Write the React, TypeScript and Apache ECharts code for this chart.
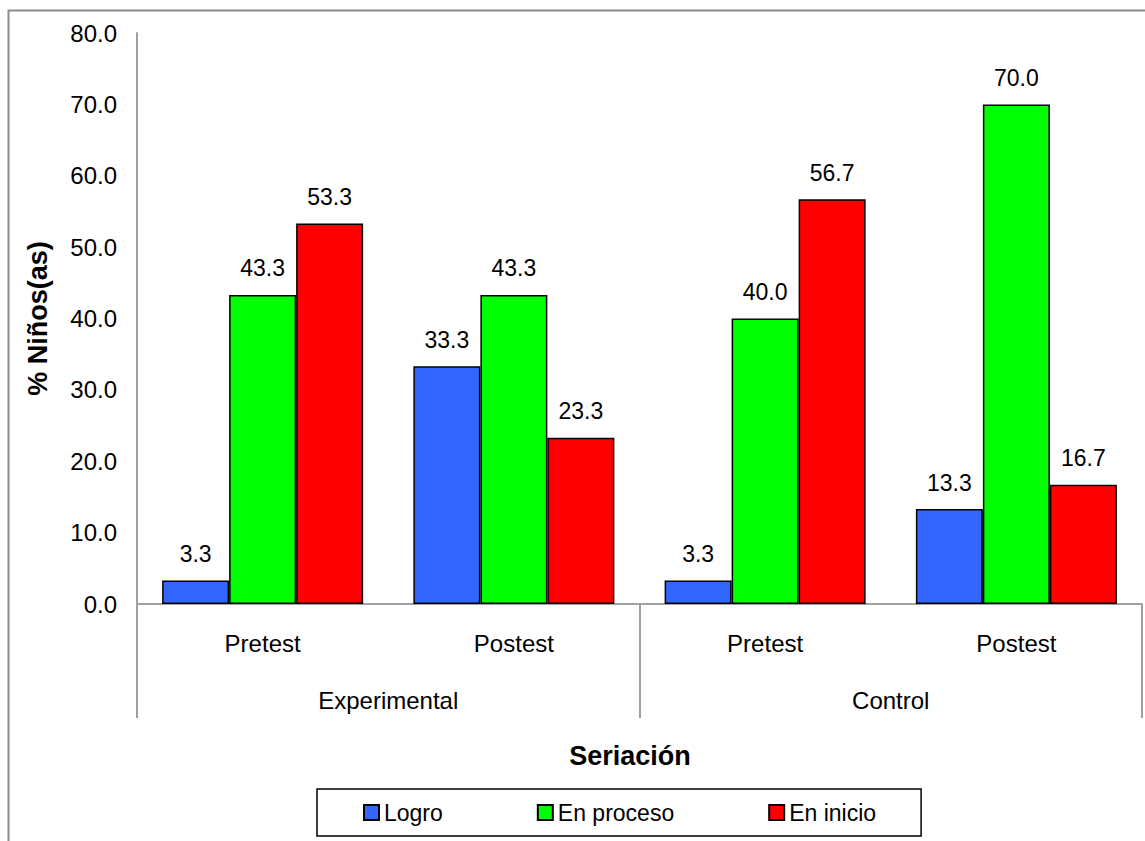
import React, { useEffect, useRef } from "react";
import * as echarts from "echarts";

const stages = ["Pretest", "Postest", "Pretest", "Postest"];
const groups = ["Experimental", "Control"];
const logro = [3.3, 33.3, 3.3, 13.3];
const enProceso = [43.3, 43.3, 40.0, 70.0];
const enInicio = [53.3, 23.3, 56.7, 16.7];
const yTicks = { min: 0, max: 80, interval: 10 };

const FONT = "'Liberation Sans', Arial, sans-serif";
const AXIS_GRAY = "#a0a0a0";

export default function App() {
  const ref = useRef<HTMLDivElement>(null);

  useEffect(() => {
    if (!ref.current) return;
    const chart = echarts.init(ref.current, null, { renderer: "svg" });

    const barSeries = (name: string, data: number[], color: string) => ({
      name,
      type: "bar",
      data,
      xAxisIndex: 0,
      barGap: "0%",
      barCategoryGap: "20%",
      itemStyle: { color, borderColor: "#000", borderWidth: 1.5 },
      label: {
        show: true,
        position: "top",
        distance: 15,
        formatter: (p: any) => Number(p.value).toFixed(1),
        fontFamily: FONT,
        fontSize: 23,
        color: "#000",
      },
    });

    chart.setOption({
      animation: false,
      textStyle: { fontFamily: FONT },
      grid: { left: 137, right: 3, top: 33, bottom: 237 },
      xAxis: [
        {
          type: "category",
          data: stages,
          position: "bottom",
          axisLine: { show: true, lineStyle: { color: AXIS_GRAY, width: 2 } },
          axisTick: { show: false },
          axisLabel: { margin: 27, fontSize: 24, color: "#000", fontFamily: FONT },
        },
        {
          type: "category",
          data: groups,
          position: "bottom",
          axisLine: { show: false },
          axisTick: { show: true, length: 114, lineStyle: { color: AXIS_GRAY, width: 2 } },
          axisLabel: { margin: 84, fontSize: 24, color: "#000", fontFamily: FONT },
        },
      ],
      yAxis: {
        type: "value",
        min: yTicks.min,
        max: yTicks.max,
        interval: yTicks.interval,
        name: "% Niños(as)",
        nameLocation: "middle",
        nameGap: 86,
        nameTextStyle: { fontSize: 27, fontWeight: "bold", color: "#000", fontFamily: FONT },
        axisLine: { show: true, lineStyle: { color: AXIS_GRAY, width: 2 } },
        axisTick: { show: false },
        splitLine: { show: false },
        axisLabel: {
          margin: 20,
          fontSize: 24,
          color: "#000",
          fontFamily: FONT,
          formatter: (v: number) => v.toFixed(1),
        },
      },
      legend: {
        data: ["Logro", "En proceso", "En inicio"],
        left: 317,
        top: 789,
        orient: "horizontal",
        icon: "rect",
        itemWidth: 15,
        itemHeight: 15,
        itemGap: 94,
        padding: [12, 45, 12, 46],
        borderColor: "#000",
        borderWidth: 1.5,
        textStyle: { fontSize: 23, color: "#000", fontFamily: FONT },
      },
      graphic: [
        {
          type: "rect",
          shape: { x: 8.5, y: 10.5, width: 1300, height: 1000 },
          style: { fill: "none", stroke: "#8c8c8c", lineWidth: 2 },
          silent: true,
        },
        {
          type: "text",
          x: 630,
          y: 756,
          style: {
            text: "Seriación",
            fontSize: 27,
            fontWeight: "bold",
            fontFamily: FONT,
            fill: "#000",
            align: "center",
            verticalAlign: "middle",
          },
        },
      ],
      series: [
        barSeries("Logro", logro, "#3366ff"),
        barSeries("En proceso", enProceso, "#00ff00"),
        barSeries("En inicio", enInicio, "#ff0000"),
      ],
    });

    return () => chart.dispose();
  }, []);

  return (
    <div
      ref={ref}
      style={{ position: "fixed", left: 0, top: 0, width: 1145, height: 841, background: "#fff" }}
    />
  );
}
